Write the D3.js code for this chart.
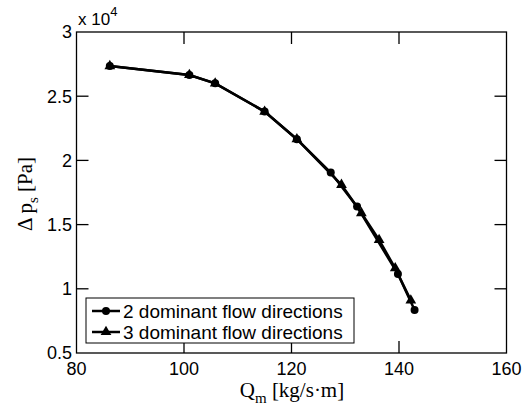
<!DOCTYPE html>
<html>
<head>
<meta charset="utf-8">
<script src="https://cdn.jsdelivr.net/npm/d3@7"></script>
<style>
  body { margin: 0; background: #fff; }
  svg { display: block; }
  .tick-label { font-family: "Liberation Sans", Arial, sans-serif; font-size: 18px; fill: #000; }
  .axis-title { font-family: "Liberation Serif", "Times New Roman", serif; font-size: 21px; fill: #000; }
  .legend-text { font-family: "Liberation Sans", Arial, sans-serif; font-size: 19px; fill: #000; }
</style>
</head>
<body>
<div id="chart"></div>
<script>

// data (x = Q_m, y = delta p_s in Pa)
const series2x = [86.2, 101.0, 105.8, 115.0, 121.0, 127.3, 132.2, 139.8, 142.9];
const series2y = [27350, 26650, 26000, 23800, 21650, 19050, 16400, 11150, 8350];
const series3x = [86.2, 101.0, 105.8, 115.0, 121.0, 129.3, 133.0, 136.3, 139.3, 142.2];
const series3y = [27350, 26650, 26000, 23800, 21650, 18100, 15900, 13800, 11600, 9100];
const seriesNames = ["2 dominant flow directions", "3 dominant flow directions"];
const xTicks = [80, 100, 120, 140, 160];
const yTicks = [5000, 10000, 15000, 20000, 25000, 30000];

const W = 527, H = 408;
const plot = {left: 76.5, right: 506.5, top: 32, bottom: 353};

const svg = d3.select("#chart").append("svg")
    .attr("width", W)
    .attr("height", H);

const x = d3.scaleLinear().domain([80, 160]).range([plot.left, plot.right]);
const y = d3.scaleLinear().domain([5000, 30000]).range([plot.bottom, plot.top]);

// box + inward ticks on all four sides
const tickLen = 12;
svg.append("rect")
    .attr("x", plot.left).attr("y", plot.top)
    .attr("width", plot.right - plot.left).attr("height", plot.bottom - plot.top)
    .attr("fill", "none").attr("stroke", "#000").attr("stroke-width", 1.3);

const innerX = xTicks.slice(1, -1);
svg.selectAll(".xt-b").data(innerX).enter().append("line")
    .attr("x1", d => x(d)).attr("x2", d => x(d))
    .attr("y1", plot.bottom).attr("y2", plot.bottom - tickLen)
    .attr("stroke", "#000").attr("stroke-width", 1.3);
svg.selectAll(".xt-t").data(innerX).enter().append("line")
    .attr("x1", d => x(d)).attr("x2", d => x(d))
    .attr("y1", plot.top).attr("y2", plot.top + tickLen)
    .attr("stroke", "#000").attr("stroke-width", 1.3);

const innerY = yTicks.slice(1, -1);
svg.selectAll(".yt-l").data(innerY).enter().append("line")
    .attr("x1", plot.left).attr("x2", plot.left + tickLen)
    .attr("y1", d => y(d)).attr("y2", d => y(d))
    .attr("stroke", "#000").attr("stroke-width", 1.3);
svg.selectAll(".yt-r").data(innerY).enter().append("line")
    .attr("x1", plot.right).attr("x2", plot.right - tickLen)
    .attr("y1", d => y(d)).attr("y2", d => y(d))
    .attr("stroke", "#000").attr("stroke-width", 1.3);

// tick labels
svg.selectAll(".xl").data(xTicks).enter().append("text")
    .attr("class", "tick-label")
    .attr("x", d => x(d)).attr("y", 374.5)
    .attr("text-anchor", "middle")
    .text(d => d);

svg.selectAll(".yl").data(yTicks).enter().append("text")
    .attr("class", "tick-label")
    .attr("x", 72).attr("y", d => y(d))
    .attr("dy", "0.36em")
    .attr("text-anchor", "end")
    .text(d => d3.format("~g")(d / 1e4));

// exponent
const expo = svg.append("text")
    .attr("class", "tick-label")
    .style("font-size", "17px")
    .attr("x", 78).attr("y", 25);
expo.append("tspan").text("x 10");
expo.append("tspan").attr("dy", -9).style("font-size", "13px").text("4");

// axis titles
const xt = svg.append("text")
    .attr("class", "axis-title")
    .attr("x", 292).attr("y", 397)
    .attr("text-anchor", "middle");
xt.append("tspan").text("Q");
xt.append("tspan").attr("dy", 6).style("font-size", "15px").text("m");
xt.append("tspan").attr("dy", -6).text(" [kg/s\u00b7m]");

const yt = svg.append("text")
    .attr("class", "axis-title")
    .attr("transform", "translate(32,194) rotate(-90)")
    .attr("text-anchor", "middle");
yt.append("tspan").text("\u0394 p");
yt.append("tspan").attr("dy", 6).style("font-size", "15px").text("s");
yt.append("tspan").attr("dy", -6).text(" [Pa]");

// lines and markers
const line = d3.line().x(d => x(d[0])).y(d => y(d[1]));
const pts2 = series2x.map((v, i) => [v, series2y[i]]);
const pts3 = series3x.map((v, i) => [v, series3y[i]]);

const triangle = d3.symbol().type(d3.symbolTriangle).size(50);

svg.append("path").datum(pts2)
    .attr("d", line).attr("fill", "none")
    .attr("stroke", "#000").attr("stroke-width", 2.5);
svg.append("path").datum(pts3)
    .attr("d", line).attr("fill", "none")
    .attr("stroke", "#000").attr("stroke-width", 2.5);

svg.selectAll(".c2").data(pts2).enter().append("circle")
    .attr("cx", d => x(d[0])).attr("cy", d => y(d[1]))
    .attr("r", 4).attr("fill", "#000");
svg.selectAll(".t3").data(pts3).enter().append("path")
    .attr("d", triangle)
    .attr("transform", d => `translate(${x(d[0])},${y(d[1])})`)
    .attr("fill", "#000");

// legend
const lg = svg.append("g");
lg.append("rect")
    .attr("x", 86).attr("y", 298).attr("width", 268).attr("height", 45)
    .attr("fill", "#fff").attr("stroke", "#000").attr("stroke-width", 1);

seriesNames.forEach((name, i) => {
    const ly = 311 + i * 21;
    lg.append("line")
        .attr("x1", 92).attr("x2", 120).attr("y1", ly).attr("y2", ly)
        .attr("stroke", "#000").attr("stroke-width", 2.5);
    if (i === 0) {
        lg.append("circle").attr("cx", 106).attr("cy", ly).attr("r", 4).attr("fill", "#000");
    } else {
        lg.append("path").attr("d", triangle)
            .attr("transform", `translate(106,${ly})`).attr("fill", "#000");
    }
    lg.append("text")
        .attr("class", "legend-text")
        .attr("x", 123).attr("y", ly + 7)
        .text(name);
});

</script>
</body>
</html>
